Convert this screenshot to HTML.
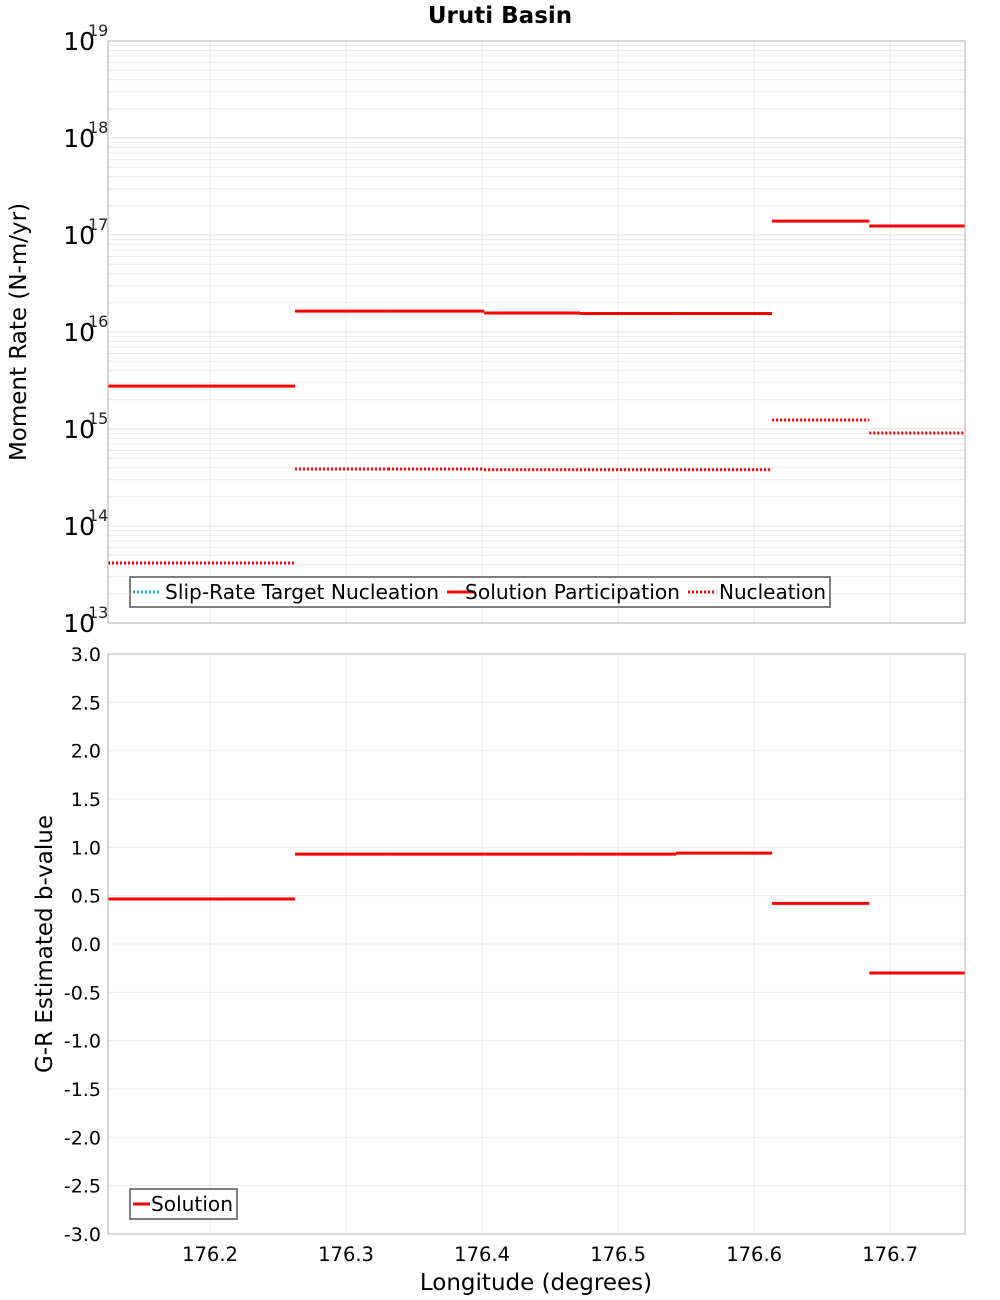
<!DOCTYPE html>
<html><head><meta charset="utf-8"><style>
body{margin:0;background:#fff;}
svg{display:block;font-family:"DejaVu Sans","Liberation Sans",sans-serif;}
</style></head><body>
<svg id="chart" width="1000" height="1300"></svg>
<script>
const xEdges=[176.125,176.1926,176.2625,176.3309,176.4015,176.472,176.5426,176.6132,176.6846,176.755];
const participation=[2.77e15,2.77e15,1.64e16,1.64e16,1.57e16,1.55e16,1.55e16,1.39e17,1.24e17];
const nucleation=[4.16e13,4.16e13,3.87e14,3.87e14,3.8e14,3.8e14,3.8e14,1.24e15,9.1e14];
const bValues=[0.465,0.465,0.93,0.93,0.93,0.93,0.94,0.42,-0.30];
const xTicks=[176.2,176.3,176.4,176.5,176.6,176.7];
const logTicks=[13,14,15,16,17,18,19];
const bTicks=[-3,-2.5,-2,-1.5,-1,-0.5,0,0.5,1,1.5,2,2.5,3];

const NS="http://www.w3.org/2000/svg";
const svg=document.getElementById('chart');
const L=108,R=965,T1=41,B1=623,T2=654,B2=1234;
const xMin=176.125,xMax=176.755;
const X=v=>L+(v-xMin)/(xMax-xMin)*(R-L);
const Y1=v=>B1-(Math.log10(v)-13)/6*(B1-T1);
const Y2=v=>B2-(v+3)/6*(B2-T2);
function el(tag,attrs,parent){const e=document.createElementNS(NS,tag);for(const k in attrs)e.setAttribute(k,attrs[k]);(parent||svg).appendChild(e);return e;}
function txt(s,attrs){const t=el('text',attrs);t.textContent=s;return t;}

const title=txt('Uruti Basin',{x:500,y:23,'text-anchor':'middle','font-size':23,'font-weight':'bold'});



[[T1,B1,'moment-plot-area'],[T2,B2,'bvalue-plot-area']].forEach(([t,b,n])=>{
  const r=el('rect',{x:L,y:t,width:R-L,height:b-t,fill:'#fff'});
  
  
});

for(let d=13;d<19;d++){for(let m=1;m<10;m++){const y=Y1(m*Math.pow(10,d));
  const g=el('line',{x1:L,x2:R,y1:y,y2:y,stroke:m===1?'#e2e2e2':'#ececec','stroke-width':1});
  
  }}
bTicks.forEach(v=>{const y=Y2(v);const g=el('line',{x1:L,x2:R,y1:y,y2:y,stroke:'#ebebeb'});
  
  });
xTicks.forEach(v=>{const x=X(v);[[T1,B1],[T2,B2]].forEach(([a,b])=>{const g=el('line',{x1:x,x2:x,y1:a,y2:b,stroke:'#ebebeb'});
  
  });});

function segs(vals,Y,dash,name){for(let i=0;i<vals.length;i++){
  const l=el('line',{x1:X(xEdges[i]),x2:X(xEdges[i+1]),y1:Y(vals[i]),y2:Y(vals[i]),stroke:'#ff0000','stroke-width':3});
  if(dash)l.setAttribute('stroke-dasharray','2,2');
  
  }}
segs(participation,Y1,false,'participation-segment');
segs(nucleation,Y1,true,'nucleation-segment');
segs(bValues,Y2,false,'bvalue-segment');

[[T1,B1],[T2,B2]].forEach(([t,b])=>{const r=el('rect',{x:L,y:t,width:R-L,height:b-t,fill:'none',stroke:'#b0b0b0','stroke-width':1});
  
  });

logTicks.forEach(d=>{const y=Y1(Math.pow(10,d));
  const t=el('text',{x:95,y:y+9,'text-anchor':'end','font-size':25});
  
  
  t.textContent='10';
  const s=txt(String(d),{x:88,y:y-5,'font-size':16,fill:'#222'});
  
  });
bTicks.forEach(v=>{const t=txt(v.toFixed(1),{x:101,y:Y2(v)+7,'text-anchor':'end','font-size':19});
  
  });
xTicks.forEach(v=>{const t=txt(v.toFixed(1),{x:X(v),y:1261,'text-anchor':'middle','font-size':19.5});
  
  });

const yt1=txt('Moment Rate (N-m/yr)',{x:0,y:0,'text-anchor':'middle','font-size':23,transform:'translate(26,332) rotate(-90)'});


const yt2=txt('G-R Estimated b-value',{x:0,y:0,'text-anchor':'middle','font-size':23,transform:'translate(52,944) rotate(-90)'});


const xt=txt('Longitude (degrees)',{x:536,y:1290,'text-anchor':'middle','font-size':23});



const lg1=el('rect',{x:130,y:577,width:700,height:30,fill:'#fff',stroke:'#555','stroke-width':1.5});


[[133,'#1fb5b5',true,'Slip-Rate Target Nucleation',165,274],[447,'#ff0000',false,'Solution Participation',465,215],[688,'#ff0000',true,'Nucleation',719,107]].forEach(([x,c,d,s,tx,w])=>{
  const l=el('line',{x1:x,x2:x+28,y1:592,y2:592,stroke:c,'stroke-width':3});
  if(d)l.setAttribute('stroke-dasharray','2,2');
  
  
  const t=txt(s,{x:tx,y:599,'font-size':20,textLength:w,lengthAdjust:'spacingAndGlyphs'});
  
  });
const lg2=el('rect',{x:130,y:1189,width:107,height:30,fill:'#fff',stroke:'#555','stroke-width':1.5});


const sw=el('line',{x1:133,x2:150,y1:1204,y2:1204,stroke:'#ff0000','stroke-width':3});


const st=txt('Solution',{x:151,y:1211,'font-size':20,textLength:82,lengthAdjust:'spacingAndGlyphs'});


</script>
</body></html>
